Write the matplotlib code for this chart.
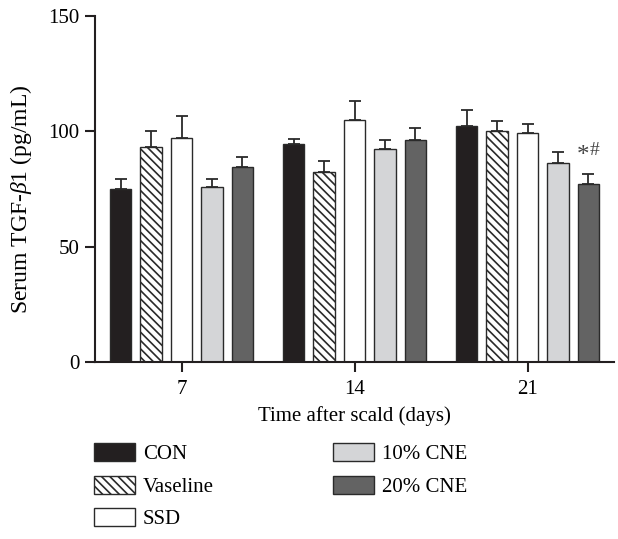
import matplotlib
matplotlib.use("Agg")
import matplotlib.pyplot as plt
import numpy as np

plt.rcParams['font.family'] = ['Liberation Serif', 'DejaVu Serif']
plt.rcParams['mathtext.fontset'] = 'custom'
plt.rcParams['mathtext.rm'] = 'Liberation Serif'
plt.rcParams['mathtext.it'] = 'Liberation Serif:italic'
plt.rcParams['hatch.linewidth'] = 1.2

# Data
days = ["7", "14", "21"]
groups = ["CON", "Vaseline", "SSD", "10% CNE", "20% CNE"]
con = [75.0, 94.6, 102.4]
vaseline = [93.3, 82.4, 100.3]
ssd = [97.2, 105.0, 99.3]
cne10 = [75.7, 92.3, 86.4]
cne20 = [84.4, 96.2, 77.3]
con_err = [4.5, 1.9, 6.8]
vaseline_err = [6.7, 4.9, 4.3]
ssd_err = [9.4, 8.3, 4.0]
cne10_err = [3.8, 3.8, 4.8]
cne20_err = [4.5, 5.2, 4.1]

values = [con, vaseline, ssd, cne10, cne20]
errors = [con_err, vaseline_err, ssd_err, cne10_err, cne20_err]
faces = ['#231f20', 'white', 'white', '#d4d5d7', '#636363']
back = chr(92)
hatches = [None, back * 4, None, None, None]

fig = plt.figure(figsize=(6.18, 5.39), dpi=100)
ax = fig.add_axes([95/618, 1-362/539, (614-95)/618, (362-16)/539])

x = np.arange(len(days))
step = 0.176
width = 0.122
handles = []
for i in range(len(groups)):
    b = ax.bar(x + (i - 2) * step, values[i], width, color=faces[i],
               edgecolor='#2a2a2a', linewidth=1.0, hatch=hatches[i],
               yerr=[np.zeros(3), errors[i]],
               error_kw=dict(ecolor='#2a2a2a', elinewidth=1.3, capsize=4.5, capthick=1.3),
               label=groups[i], zorder=2)
    handles.append(b)

# significance mark on 20% CNE at day 21
ax.text(x[2] + 2 * step + 0.005, cne20[2] + cne20_err[2] + 3, "*", fontsize=18,
        ha='right', va='bottom', color='#444444')
ax.text(x[2] + 2 * step + 0.01, cne20[2] + cne20_err[2] + 6.5, "#", fontsize=14,
        ha='left', va='bottom', color='#444444')

ax.set_xlim(-0.5, 2.5)
ax.set_ylim(0, 150)
ax.set_yticks([0, 50, 100, 150])
ax.set_xticks(x)
ax.set_xticklabels(days)
ax.tick_params(axis='both', labelsize=15, width=1.5, length=7, color='#231f20')
ax.tick_params(axis='y', pad=4)
ax.tick_params(axis='x', pad=6)
for side in ['top', 'right']:
    ax.spines[side].set_visible(False)
for side in ['left', 'bottom']:
    ax.spines[side].set_linewidth(1.5)
    ax.spines[side].set_color('#231f20')
ax.set_ylabel(r'Serum TGF-$\mathit{\beta}$1 (pg/mL)', fontsize=17)
ax.yaxis.set_label_coords(-0.118, 0.47)
ax.set_xlabel('Time after scald (days)', fontsize=15, labelpad=5)

common = dict(loc='upper left', frameon=False, fontsize=15, handlelength=1.95,
              handleheight=0.95, handletextpad=0.4, labelspacing=0.55,
              borderpad=0, borderaxespad=0)
fig.legend(handles[:3], groups[:3], bbox_to_anchor=(94/618, 1-443/539), **common)
fig.legend(handles[3:], groups[3:], bbox_to_anchor=(333/618, 1-443/539), **common)

fig.savefig("out.png", dpi=100)
